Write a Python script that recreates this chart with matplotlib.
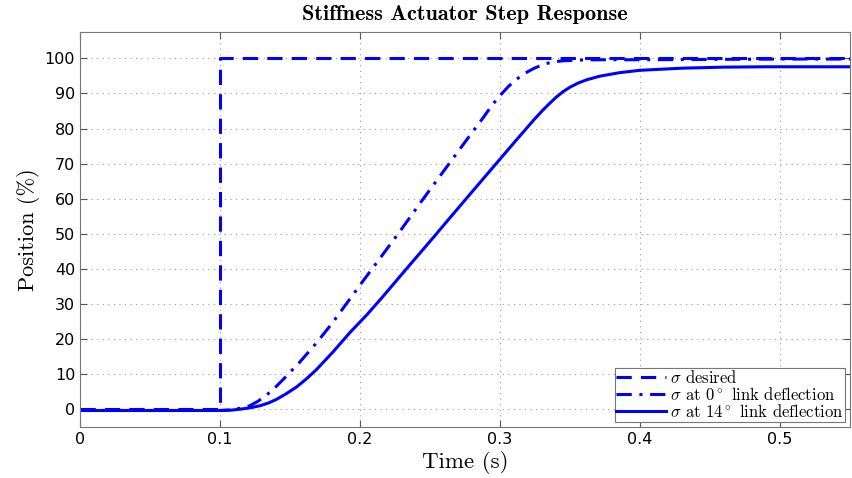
import matplotlib
matplotlib.use('Agg')
import matplotlib.pyplot as plt
import numpy as np

plt.rcParams['mathtext.fontset'] = 'cm'
plt.rcParams['axes.unicode_minus'] = False

# desired step
t_des = [0, 0.1, 0.1, 0.55]
v_des = [0, 0, 100, 100]

# sigma at 0 deg link deflection
t_0 = [0, 0.1, 0.105, 0.11, 0.115, 0.121, 0.127, 0.133, 0.139, 0.145, 0.157, 0.169, 0.18, 0.191,
       0.202, 0.219, 0.229, 0.243, 0.252, 0.264, 0.276, 0.288, 0.294, 0.3, 0.306, 0.312, 0.318,
       0.324, 0.331, 0.338, 0.345, 0.355, 0.37, 0.4, 0.45, 0.5, 0.55]
v_0 = [-0.3, -0.3, -0.2, 0, 0.4, 1, 2.3, 4, 6.1, 8.5, 13.5, 19, 24.5, 30.5,
       36.5, 45.6, 51, 58.8, 63.7, 70.2, 76.7, 83.1, 86.5, 89.4, 92.0, 94.1, 95.8,
       97.1, 98.3, 99, 99.3, 99.5, 99.6, 99.6, 99.7, 99.8, 99.8]

# sigma at 14 deg link deflection
t_14 = [0, 0.1, 0.108, 0.115, 0.122, 0.129, 0.135, 0.14, 0.147, 0.155, 0.162, 0.169, 0.181, 0.193,
        0.205, 0.216, 0.229, 0.241, 0.252, 0.263, 0.276, 0.288, 0.3, 0.312, 0.324, 0.33, 0.335,
        0.34, 0.345, 0.35, 0.356, 0.362, 0.371, 0.385, 0.4, 0.43, 0.46, 0.49, 0.52, 0.55]
v_14 = [-0.3, -0.3, -0.2, 0.1, 0.5, 1.1, 1.9, 2.8, 4.4, 6.5, 8.8, 11.4, 16.5, 22,
        27, 32, 38.1, 43.7, 48.8, 54, 60.1, 65.7, 71.3, 76.9, 82.4, 85, 87,
        88.9, 90.5, 91.8, 93, 93.9, 94.9, 95.9, 96.6, 97.2, 97.5, 97.6, 97.6, 97.6]

fig = plt.figure(figsize=(8.53, 4.78), dpi=100)
ax = fig.add_axes([0.0938, 0.1067, 0.9027, 0.8263])

ax.plot(t_des, v_des, color='#0000ff', lw=2.2, dashes=(5, 3), label=r'$\sigma$ desired')
ax.plot(t_0, v_0, color='#0000ff', lw=2.2, dashes=(5, 2.5, 1, 2.5),
        label=r'$\sigma$ at 0$^\circ$ link deflection')
ax.plot(t_14, v_14, color='#0000ff', lw=2.2, label=r'$\sigma$ at 14$^\circ$ link deflection')

ax.set_xlim(0, 0.55)
ax.set_ylim(-5, 107.5)
ax.set_xticks([0, 0.1, 0.2, 0.3, 0.4, 0.5])
ax.set_xticklabels(['0', '0.1', '0.2', '0.3', '0.4', '0.5'])
ax.set_yticks(np.arange(0, 101, 10))
ax.tick_params(direction='in', top=True, right=True, labelsize=11.5, length=5, color='#555555')
ax.grid(True, linestyle=(0, (1, 4)), color='#999999', lw=0.8)
for s in ax.spines.values():
    s.set_color('#777777')

ax.set_xlabel('Time (s)', fontfamily='cmr10', fontsize=16.5, labelpad=3)
ax.set_ylabel('Position (%)', fontfamily='cmr10', fontsize=16, labelpad=3)
ax.set_title('Stiffness Actuator Step Response', fontfamily='cmb10', fontsize=16, pad=9)

leg = ax.legend(loc='lower right', prop={'family': 'cmr10', 'size': 12}, fancybox=False,
                handlelength=3.0, handletextpad=0.2, borderpad=0.1, labelspacing=0.0,
                borderaxespad=0.3, framealpha=1, edgecolor='#777777')
leg.get_frame().set_linewidth(0.8)

fig.savefig('out.png', dpi=100)
